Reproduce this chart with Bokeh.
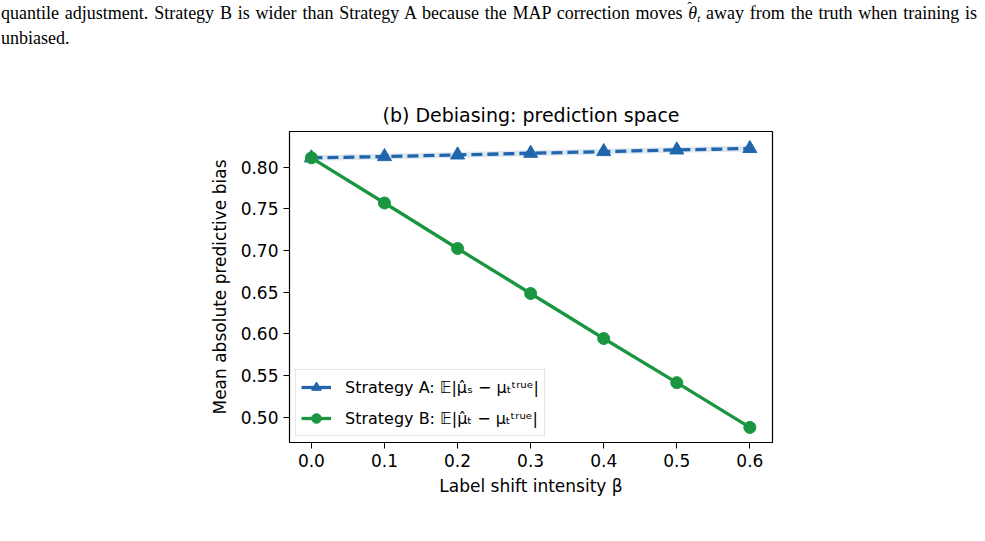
from bokeh.plotting import figure
from bokeh.layouts import column
from bokeh.models import (Range1d, FixedTicker, Legend, LegendItem, ColumnDataSource,
                          Band, NumeralTickFormatter, Div)
from bokeh.embed import file_html
from bokeh.resources import INLINE

# ---- data ----
beta = [0.0, 0.1, 0.2, 0.3, 0.4, 0.5, 0.6]
strategy_a = [0.811, 0.8125, 0.8145, 0.8165, 0.8185, 0.8205, 0.8222]
strategy_a_lo = [0.8075, 0.809, 0.811, 0.813, 0.815, 0.817, 0.8187]
strategy_a_hi = [0.8145, 0.816, 0.818, 0.820, 0.822, 0.824, 0.8257]
strategy_b = [0.811, 0.7568, 0.7022, 0.6482, 0.5942, 0.5412, 0.4875]
x_ticks = [0.0, 0.1, 0.2, 0.3, 0.4, 0.5, 0.6]
y_ticks = [0.50, 0.55, 0.60, 0.65, 0.70, 0.75, 0.80]
label_a = "Strategy A: 𝔼|μ̂ₛ − μₜᵗʳᵘᵉ|"
label_b = "Strategy B: 𝔼|μ̂ₜ − μₜᵗʳᵘᵉ|"
theta_hat = ("<span style='display:inline-block;position:relative;font-style:italic'>θ"
             "<span style='position:absolute;left:-1px;right:-1px;top:-1px;line-height:1;"
             "text-align:center;font-style:normal;font-size:14px'>ˆ</span></span>"
             "<i style='font-size:11px;position:relative;top:3px'>t</i>")
para_line1 = ("quantile adjustment. Strategy B is wider than Strategy A because the MAP "
              "correction moves " + theta_hat + " away from the truth when training is")
para_line2 = "unbiased."

BLUE = "#2166ac"
GREEN = "#1a9641"
FONT = "DejaVu Sans"

W, H = 985, 541
TOP_H = 60
FL, FR, FT, FB = 289, 772, 131 - TOP_H, 442 - TOP_H
CH = H - TOP_H

# ---- top paragraph ----
base_style = ("font-family:'Liberation Serif',serif;font-size:18px;line-height:23px;"
              "color:black;margin:0;padding:0 0 0 1px;width:977px;white-space:nowrap;")
top = Div(text=("<div style=\"padding-top:2px\">"
                "<div style=\"" + base_style + "text-align:justify;text-align-last:justify;\">"
                + para_line1 + "</div>"
                "<div style=\"" + base_style + "text-align:left;\">" + para_line2 + "</div>"
                "</div>"),
          width=W, height=TOP_H, margin=(0, 0, 0, 0))

# ---- chart ----
p = figure(width=W, height=CH, output_backend="svg", toolbar_location=None,
           x_range=Range1d(-0.03, 0.631), y_range=Range1d(0.4694, 0.8426),
           min_border_left=FL, min_border_right=W - FR,
           min_border_top=FT, min_border_bottom=CH - FB,
           title="(b) Debiasing: prediction space")
p.title.text_font = FONT
p.title.text_font_size = "19px"
p.title.text_font_style = "normal"
p.title.align = "center"
p.title.text_color = "black"
p.title.standoff = 11

p.xgrid.visible = False
p.ygrid.visible = False
p.outline_line_color = "black"
p.outline_line_width = 1.2
p.background_fill_color = "white"
p.border_fill_color = "white"

for ax in (p.xaxis[0], p.yaxis[0]):
    ax.axis_line_color = "black"
    ax.major_tick_line_color = "black"
    ax.major_tick_out = 6
    ax.major_tick_in = 0
    ax.minor_tick_line_color = None
    ax.major_label_text_font = FONT
    ax.major_label_text_font_size = "17px"
    ax.major_label_text_color = "black"
    ax.axis_label_text_font = FONT
    ax.axis_label_text_font_size = "17px"
    ax.axis_label_text_font_style = "normal"
    ax.axis_label_text_color = "black"
    ax.major_label_standoff = 5

p.xaxis.ticker = FixedTicker(ticks=x_ticks)
p.yaxis.ticker = FixedTicker(ticks=y_ticks)
p.xaxis.formatter = NumeralTickFormatter(format="0.0")
p.yaxis.formatter = NumeralTickFormatter(format="0.00")
p.xaxis.axis_label = "Label shift intensity β"
p.yaxis.axis_label = "Mean absolute predictive bias"
p.xaxis.axis_label_standoff = 6
p.yaxis.axis_label_standoff = 8

src = ColumnDataSource(dict(x=beta, a=strategy_a, lo=strategy_a_lo, hi=strategy_a_hi, b=strategy_b))

band = Band(base="x", lower="lo", upper="hi", source=src, fill_color=BLUE, fill_alpha=0.15,
            line_color=None, level="underlay")
p.add_layout(band)

p.line("x", "a", source=src, line_color=BLUE, line_width=3.3, line_dash="11 5")
p.scatter("x", "a", source=src, marker="triangle", size=14, fill_color=BLUE, line_color=BLUE)
p.line("x", "b", source=src, line_color=GREEN, line_width=3.3)
p.scatter("x", "b", source=src, marker="circle", size=12, fill_color=GREEN, line_color=GREEN)

# legend proxies (NaN points so nothing is drawn in the plot)
nan = float("nan")
la = p.line(x=[nan, nan], y=[nan, nan], line_color=BLUE, line_width=3.3)
ma = p.scatter(x=[nan], y=[nan], marker="triangle", size=13, fill_color=BLUE, line_color=BLUE)
lb = p.line(x=[nan, nan], y=[nan, nan], line_color=GREEN, line_width=3.3)
mb = p.scatter(x=[nan], y=[nan], marker="circle", size=11, fill_color=GREEN, line_color=GREEN)
legend = Legend(items=[LegendItem(label=label_a, renderers=[la, ma], index=0),
                       LegendItem(label=label_b, renderers=[lb, mb], index=0)],
                location="bottom_left")
legend.label_text_font = FONT
legend.label_text_font_size = "16px"
legend.label_text_color = "black"
legend.border_line_color = "#cccccc"
legend.border_line_width = 1
legend.background_fill_alpha = 0.8
legend.margin = 6
legend.padding = 5
legend.spacing = 7
legend.glyph_width = 30
legend.glyph_height = 24
legend.label_standoff = 14
p.add_layout(legend, "center")

layout = column(top, p, spacing=0)
open("out.html", "w").write(file_html(layout, INLINE))
